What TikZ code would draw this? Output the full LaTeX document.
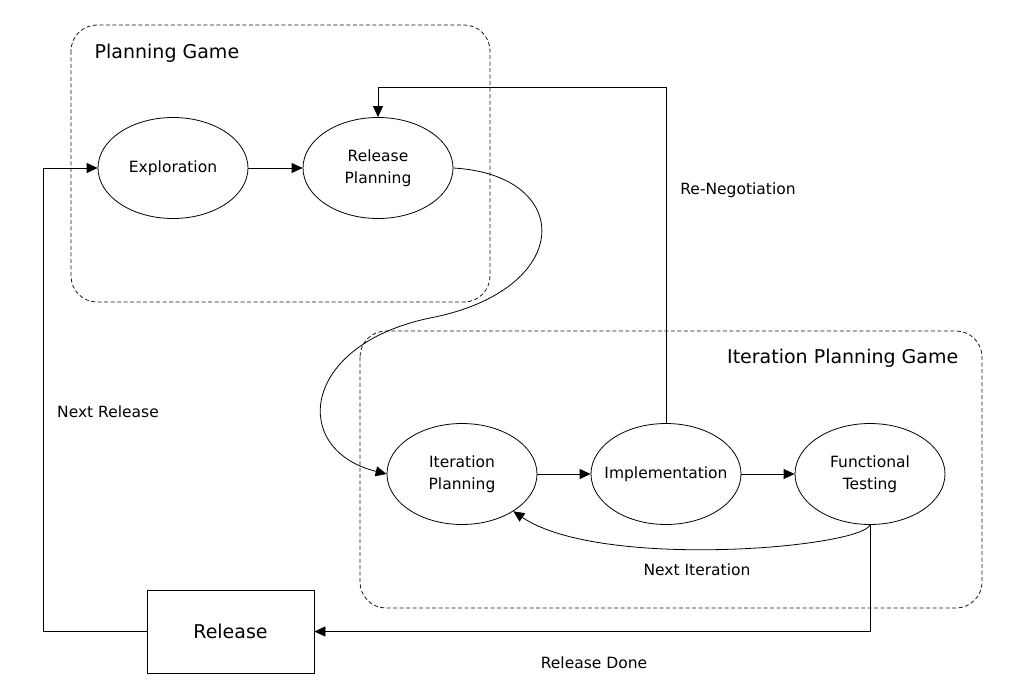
\documentclass[tikz,border=0pt]{standalone}
\usepackage{fontspec}
\setmainfont{DejaVu Sans}
\usepackage{tikz}
\usetikzlibrary{arrows.meta,shapes.geometric}

\begin{document}
\begin{tikzpicture}
    [x=1pt,y=-1pt,line width=0.8pt,-{Triangle[length=11pt,width=10pt]},
     phase/.style={ellipse,draw,-,minimum width=150pt,minimum height=101pt,inner xsep=-20pt,inner ysep=0pt,align=center,font=\fontsize{15.5}{22}\selectfont},
     gamebox/.style={draw=black!90,-,dashed,dash pattern=on 4pt off 2.5pt,rounded corners=26pt},
     lbl/.style={font=\fontsize{15.5}{22}\selectfont},
     title/.style={font=\fontsize{19}{22}\selectfont}]
    \useasboundingbox (0,0) rectangle (1020,695);

    % the two games
    \draw[gamebox] (71,25) rectangle (490,302);
    \draw[gamebox] (360,331) rectangle (982,608);
    \node[title,anchor=west] (tpg) at (91,53) {Planning Game};
    \node[title,anchor=east] (tipg) at (962,358) {Iteration Planning Game};

    \node[phase] (nexp) at (173,168) {Exploration};
    \node[phase] (nrp) at (378,168) {Release\\Planning};
    \node[phase] (nip) at (462,474) {Iteration\\Planning};
    \node[phase] (nimp) at (666,474) {Implementation};
    \node[phase] (nft) at (870,474) {Functional\\Testing};
    \node[draw,-,minimum width=167pt,minimum height=83pt,font=\fontsize{19}{22}\selectfont] (nrel) at (230.5,631.5) {Release};

    \coordinate (cnr) at (43,168);
    \coordinate (crn) at (378,87);

    \path (nexp) edge (nrp);
    \path (nip) edge (nimp);
    \path (nimp) edge (nft);

    \draw (nrp.east) .. controls (575,175) and (575,290) .. (430,318)
          .. controls (300,345) and (290,450) .. (nip.west);
    \draw (nft.south) .. controls (860,548) and (600,570) .. (nip.-36);
    \draw (nft.south) |- (nrel.east);
    \draw (nrel.west) -| (cnr) -- (nexp.west);
    \draw (nimp.north) |- (crn) -- (nrp.north);

    \node[lbl] (lnr) at (108,412) {Next Release};
    \node[lbl] (lrn) at (738,190) {Re-Negotiation};
    \node[lbl] (lni) at (697,570) {Next Iteration};
    \node[lbl] (lrd) at (594,663) {Release Done};

  \end{tikzpicture}
\end{document}
